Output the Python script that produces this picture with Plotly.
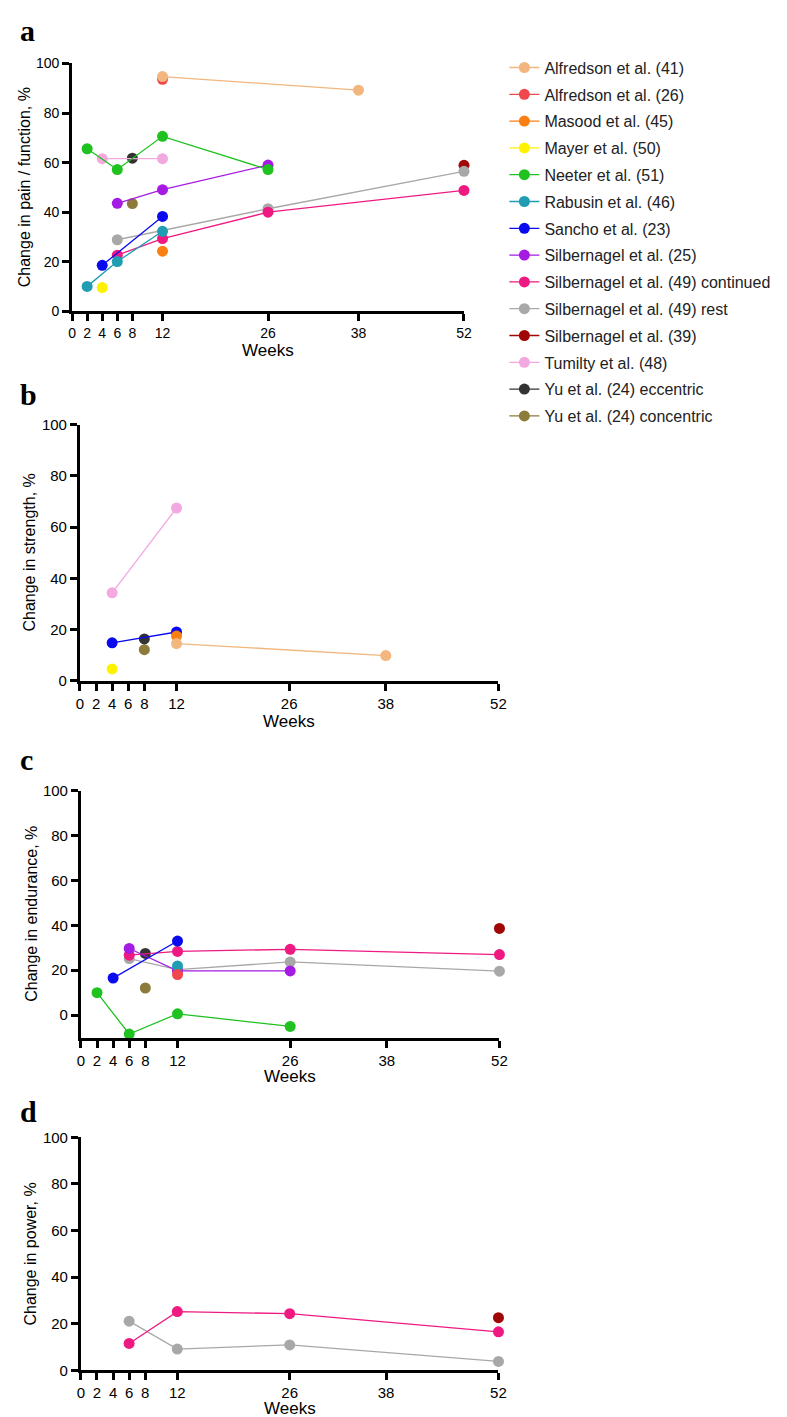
import plotly.graph_objects as go

W, H = 787, 1417

studies = [
    "Alfredson et al. (41)", "Alfredson et al. (26)", "Masood et al. (45)", "Mayer et al. (50)",
    "Neeter et al. (51)", "Rabusin et al. (46)", "Sancho et al. (23)", "Silbernagel et al. (25)",
    "Silbernagel et al. (49) continued", "Silbernagel et al. (49) rest", "Silbernagel et al. (39)",
    "Tumilty et al. (48)", "Yu et al. (24) eccentric", "Yu et al. (24) concentric",
]
colors = [
    "#F2B67E", "#F0474C", "#FA7F12", "#FFF200", "#1FC21F", "#1E9DB3", "#0A0AEE", "#A51BE3",
    "#EE1A82", "#A8A8A8", "#A00606", "#F4A8E0", "#333333", "#8C7B3A",
]

week_ticks = [0, 2, 4, 6, 8, 12, 26, 38, 52]

# Panel a: pain / function (None = study not in panel)
pain_weeks = [[12, 38], [12], [12], [4], [2, 6, 12, 26], [2, 6, 12], [4, 12], [6, 12, 26],
              [6, 12, 26, 52], [6, 26, 52], [52], [4, 12], [8], [8]]
pain_values = [[94.7, 89.2], [93.6], [24.3], [9.6], [65.6, 57.2, 70.6, 57.2], [10.1, 20.1, 32.3],
               [18.6, 38.3], [43.6, 49.1, 59.0], [22.7, 29.4, 40.0, 48.8], [28.9, 41.4, 56.5],
               [58.9], [61.6, 61.6], [61.8], [43.5]]

# Panel b: strength
strength_weeks = [[12, 38], None, [12], [4], None, None, [4, 12], None, None, None, None,
                  [4, 12], [8], [8]]
strength_values = [[14.6, 9.9], None, [17.5], [4.7], None, None, [14.9, 19.1], None, None, None,
                   None, [34.4, 67.5], [16.4], [12.2]]

# Panel c: endurance
endurance_weeks = [None, [12], None, None, [2, 6, 12, 26], [12], [4, 12], [6, 12, 26],
                   [6, 12, 26, 52], [6, 12, 26, 52], [52], None, [8], [8]]
endurance_values = [None, [18.1], None, None, [10.0, -8.4, 0.6, -5.0], [21.9], [16.5, 33.0],
                    [29.7, 19.7, 19.7], [26.7, 28.4, 29.3, 27.0], [25.2, 20.3, 23.7, 19.6], [38.6],
                    None, [27.5], [12.1]]

# Panel d: power
power_weeks = [None, None, None, None, None, None, None, None, [6, 12, 26, 52], [6, 12, 26, 52],
               [52], None, None, None]
power_values = [None, None, None, None, None, None, None, None, [11.5, 25.2, 24.3, 16.5],
                [21.1, 9.1, 10.9, 3.8], [22.6], None, None, None]

panel_titles = ["Change in pain / function, %", "Change in strength, %",
                "Change in endurance, %", "Change in power, %"]
panel_letters = ["a", "b", "c", "d"]
y_ranges = [[0, 100], [0, 100], [-10, 100], [0, 100]]
y_ticks = [0, 20, 40, 60, 80, 100]

# layout geometry in pixels: (left, right, top, bottom)
boxes = [(61, 459, 47, 298), (69, 494, 412.7, 672), (70, 495, 783, 1033), (70, 494, 1134, 1369.7)]
ytitle_x = [13, 18, 19, 19]
weeks_y = [338, 713, 1072, 1408]
letter_y = [14, 382, 752, 1108]

panels = [(pain_weeks, pain_values), (strength_weeks, strength_values),
          (endurance_weeks, endurance_values), (power_weeks, power_values)]

fig = go.Figure()
for p, (wk, vals) in enumerate(panels):
    ax = "" if p == 0 else str(p + 1)
    # draw last study first so earlier studies sit on top
    for i in reversed(range(len(studies))):
        if wk[i] is None:
            continue
        fig.add_trace(go.Scatter(
            x=wk[i], y=vals[i], mode="lines+markers", name=studies[i],
            legendgroup=studies[i], legendrank=i + 1, showlegend=(p == 0),
            line=dict(color=colors[i], width=1.3),
            marker=dict(color=colors[i], size=11),
            cliponaxis=False, xaxis="x" + ax, yaxis="y" + ax,
        ))

layout = dict(
    width=W, height=H, margin=dict(l=0, r=0, t=0, b=0),
    paper_bgcolor="white", plot_bgcolor="white",
    font=dict(family="Arial, Liberation Sans, sans-serif", color="black"),
    legend=dict(x=500 / W, y=1 - 34 / H, xanchor="left", yanchor="top",
                font=dict(size=16, color="#222"), tracegroupgap=3,
                itemwidth=30, bgcolor="rgba(0,0,0,0)"),
    annotations=[],
)
for p in range(4):
    l, r, t, b = boxes[p]
    ax = "" if p == 0 else str(p + 1)
    fs = 14 if p == 0 else 15
    layout["xaxis" + ax] = dict(
        domain=[l / W, r / W], range=[0, 52], anchor="y" + ax,
        tickmode="array", tickvals=week_ticks, ticktext=[str(v) for v in week_ticks],
        ticks="outside", ticklen=7, tickwidth=3, tickcolor="black",
        showline=True, linewidth=3, linecolor="black", showgrid=False, zeroline=False,
        tickfont=dict(size=fs), fixedrange=True,
    )
    layout["yaxis" + ax] = dict(
        domain=[1 - b / H, 1 - t / H], range=y_ranges[p], anchor="x" + ax,
        tickmode="array", tickvals=y_ticks,
        ticks="outside", ticklen=7, tickwidth=3, tickcolor="black",
        showline=True, linewidth=3, linecolor="black", showgrid=False, zeroline=False,
        tickfont=dict(size=fs), fixedrange=True,
    )
    layout["annotations"].append(dict(
        text=panel_titles[p], textangle=-90, xref="paper", yref="paper",
        x=ytitle_x[p] / W, y=1 - (t + b) / 2 / H, xanchor="center", yanchor="middle",
        showarrow=False, font=dict(size=16)))
    layout["annotations"].append(dict(
        text="Weeks", xref="paper", yref="paper",
        x=(l + r) / 2 / W, y=1 - weeks_y[p] / H, xanchor="center", yanchor="middle",
        showarrow=False, font=dict(size=17)))
    layout["annotations"].append(dict(
        text="<b>" + panel_letters[p] + "</b>", xref="paper", yref="paper",
        x=6 / W, y=1 - letter_y[p] / H, xanchor="left", yanchor="middle",
        showarrow=False, font=dict(size=30, family="Liberation Serif, Times New Roman, serif")))

fig.update_layout(layout)
fig.write_html("out.html")
